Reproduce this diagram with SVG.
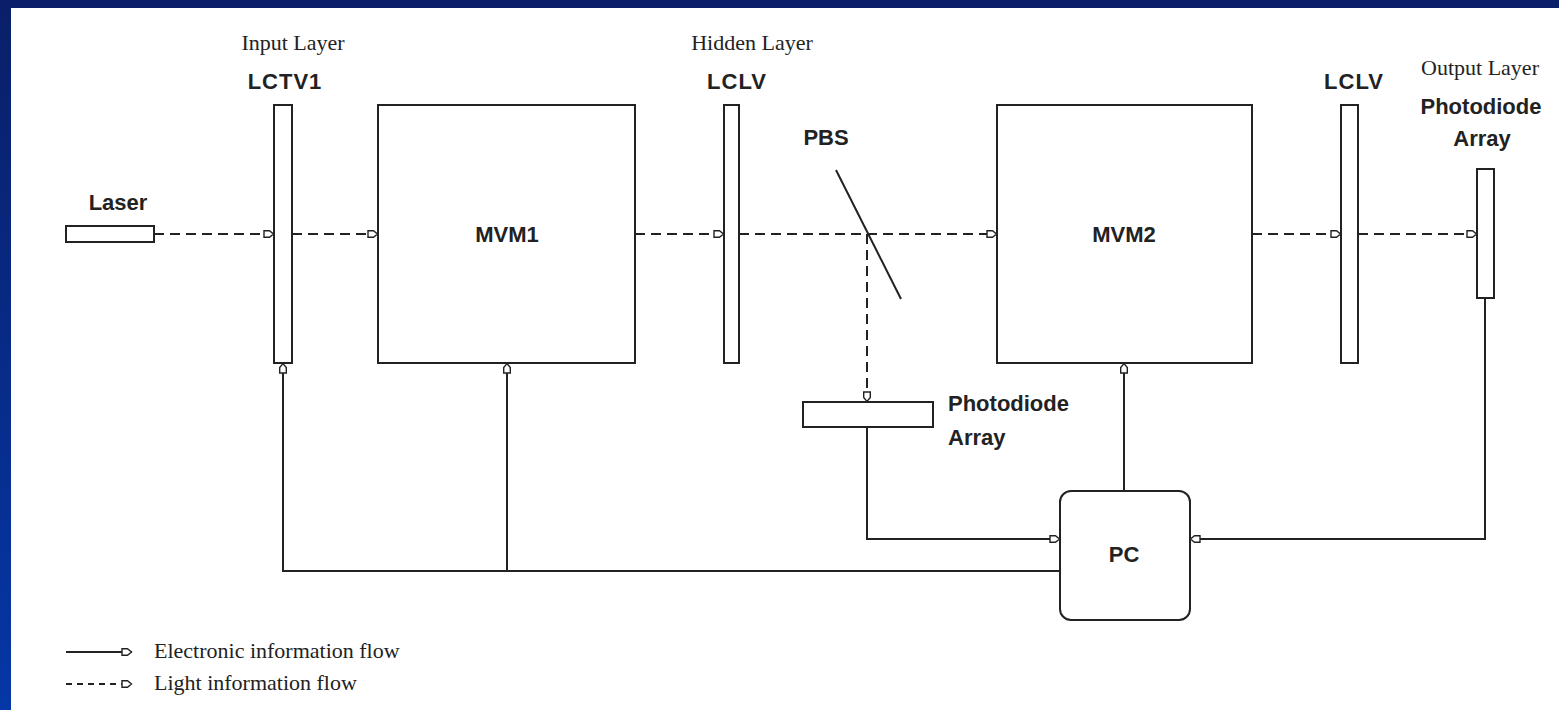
<svg xmlns="http://www.w3.org/2000/svg" width="1559" height="710" viewBox="0 0 1559 710">
  <defs>
    <linearGradient id="bg" x1="0" y1="0" x2="0" y2="1">
      <stop offset="0" stop-color="#0a1f68"/>
      <stop offset="1" stop-color="#0537a6"/>
    </linearGradient>
    <marker id="arr" markerUnits="userSpaceOnUse" viewBox="0 -5 12 10" refX="11" refY="0" markerWidth="12" markerHeight="10" orient="auto">
      <path d="M1,-3.3 L6.5,-3.3 L10.5,0 L6.5,3.3 L1,3.3 Z" fill="#fff" stroke="#222" stroke-width="1.4" stroke-dasharray="none"/>
    </marker>
    <style>
      .box { fill: #fff; stroke: #222; stroke-width: 2; }
      .lbl { font-family: "Liberation Sans", Arial, sans-serif; font-weight: bold; font-size: 22px; fill: #222; text-anchor: middle; }
      .lbls { font-family: "Liberation Sans", Arial, sans-serif; font-weight: bold; font-size: 22px; fill: #222; text-anchor: start; }
      .ser { font-family: "Liberation Serif", "Times New Roman", serif; font-size: 22px; fill: #222; text-anchor: middle; }
      .leg { font-family: "Liberation Serif", "Times New Roman", serif; font-size: 22px; fill: #222; }
      .solid { fill: none; stroke: #222; stroke-width: 2; }
      .dash { fill: none; stroke: #222; stroke-width: 2; stroke-dasharray: 10 6; }
      .ldash { fill: none; stroke: #222; stroke-width: 2; stroke-dasharray: 6 5; }
    </style>
  </defs>

  <rect x="0" y="0" width="1559" height="710" fill="url(#bg)"/>
  <rect x="11" y="8" width="1548" height="702" fill="#fff"/>

  <g id="laser">
    <rect class="box" x="66" y="226" width="88" height="16"/>
    <text class="lbl" x="118" y="210">Laser</text>
  </g>

  <g id="lctv1">
    <rect class="box" x="274" y="105" width="18" height="258"/>
    <text class="ser" x="293" y="50">Input Layer</text>
    <text class="lbl" x="285" y="89" letter-spacing="1">LCTV1</text>
  </g>

  <g id="mvm1">
    <rect class="box" x="378" y="105" width="257" height="258"/>
    <text class="lbl" x="507" y="242">MVM1</text>
  </g>

  <g id="lclv1">
    <rect class="box" x="724" y="105" width="15" height="258"/>
    <text class="ser" x="752" y="50">Hidden Layer</text>
    <text class="lbl" x="737" y="89" letter-spacing="1">LCLV</text>
  </g>

  <g id="pbs">
    <line x1="836" y1="170" x2="901" y2="299" stroke="#222" stroke-width="2"/>
    <text class="lbl" x="826" y="145">PBS</text>
  </g>

  <g id="pd-hidden">
    <rect class="box" x="803" y="402" width="130" height="25"/>
    <text class="lbls" x="948" y="411">Photodiode</text>
    <text class="lbls" x="948" y="445">Array</text>
  </g>

  <g id="mvm2">
    <rect class="box" x="997" y="105" width="255" height="258"/>
    <text class="lbl" x="1124" y="242">MVM2</text>
  </g>

  <g id="lclv2">
    <rect class="box" x="1341" y="105" width="17" height="258"/>
    <text class="lbl" x="1354" y="89" letter-spacing="1">LCLV</text>
  </g>

  <g id="pd-output">
    <rect class="box" x="1477" y="169" width="17" height="129"/>
    <text class="ser" x="1480" y="75">Output Layer</text>
    <text class="lbl" x="1481" y="114">Photodiode</text>
    <text class="lbl" x="1482" y="146">Array</text>
  </g>

  <g id="pc">
    <rect class="box" x="1060" y="491" width="130" height="129" rx="11" ry="11"/>
    <text class="lbl" x="1124" y="562">PC</text>
  </g>

  <g id="connectors">
    <path class="dash" d="M154,234 H274" marker-end="url(#arr)"/>
    <path class="dash" d="M292,234 H378" marker-end="url(#arr)"/>
    <path class="dash" d="M635,234 H724" marker-end="url(#arr)"/>
    <path class="dash" d="M739,234 H997" marker-end="url(#arr)"/>
    <path class="dash" d="M867,234 V402" marker-end="url(#arr)"/>
    <path class="dash" d="M1252,234 H1341" marker-end="url(#arr)"/>
    <path class="dash" d="M1358,234 H1477" marker-end="url(#arr)"/>
    <path class="solid" d="M867,427 V539 H1060" marker-end="url(#arr)"/>
    <path class="solid" d="M1485,298 V539 H1190" marker-end="url(#arr)"/>
    <path class="solid" d="M1124,491 V363" marker-end="url(#arr)"/>
    <path class="solid" d="M1060,571 H283 V363" marker-end="url(#arr)"/>
    <path class="solid" d="M507,571 V363" marker-end="url(#arr)"/>
  </g>

  <g id="legend">
    <path class="solid" d="M66,652 H132" marker-end="url(#arr)"/>
    <path class="ldash" d="M66,684 H132" marker-end="url(#arr)"/>
    <text class="leg" x="154" y="658">Electronic information flow</text>
    <text class="leg" x="154" y="690">Light information flow</text>
  </g>
</svg>
